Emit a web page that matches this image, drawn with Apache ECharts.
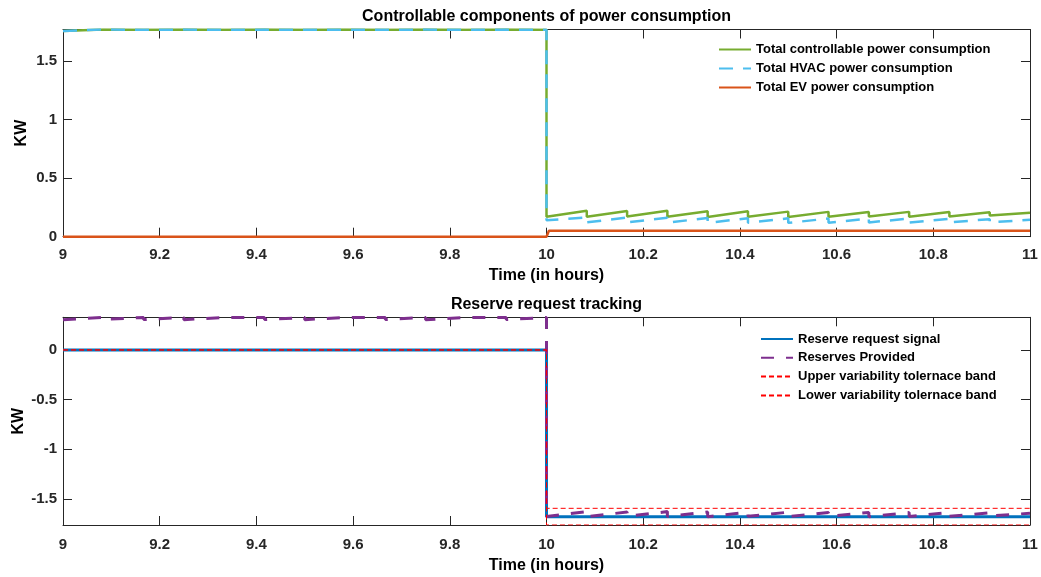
<!DOCTYPE html>
<html>
<head>
<meta charset="utf-8">
<script src="https://cdn.jsdelivr.net/npm/echarts@6/dist/echarts.min.js"></script>
<style>
html,body{margin:0;padding:0;background:#fff;}
#chart{width:1041px;height:577px;}
</style>
</head>
<body>
<div id="chart"></div>
<script>
// ---------- data ----------
const xTicks = [9, 9.2, 9.4, 9.6, 9.8, 10, 10.2, 10.4, 10.6, 10.8, 11];
const yTicksTop = [0, 0.5, 1, 1.5];
const yTicksBottom = [-1.5, -1, -0.5, 0];
const yRangeTop = [0, 1.769];
const yRangeBottom = [-1.763, 0.329];

// sawtooth break times (hours)
const dropTimes = [9, 9.0833, 9.1667, 9.25, 9.3333, 9.4167, 9.5, 9.5833, 9.6667, 9.75, 9.8333, 9.9167,
                   10, 10.0833, 10.1667, 10.25, 10.3333, 10.4167, 10.5, 10.5833, 10.6667, 10.75, 10.8333, 10.9167, 11];

// Total controllable power consumption: value at start / end of each segment
const ctrlStart = [1.756, 1.758, 1.757, 1.756, 1.758, 1.757, 1.756, 1.758, 1.757, 1.756, 1.758, 1.757,
                   0.171, 0.170, 0.172, 0.170, 0.168, 0.170, 0.168, 0.170, 0.172, 0.170, 0.172, 0.180];
const ctrlEnd   = [1.769, 1.767, 1.768, 1.767, 1.768, 1.767, 1.768, 1.767, 1.768, 1.767, 1.768, 1.767,
                   0.222, 0.220, 0.222, 0.218, 0.218, 0.214, 0.212, 0.210, 0.212, 0.210, 0.208, 0.205];
// Total HVAC power consumption
const hvacStart = [1.756, 1.758, 1.757, 1.756, 1.758, 1.757, 1.756, 1.758, 1.757, 1.756, 1.758, 1.757,
                   0.140, 0.122, 0.122, 0.120, 0.118, 0.120, 0.118, 0.120, 0.122, 0.120, 0.122, 0.122];
const hvacEnd   = [1.769, 1.767, 1.768, 1.767, 1.768, 1.767, 1.768, 1.767, 1.768, 1.767, 1.768, 1.767,
                   0.165, 0.163, 0.162, 0.160, 0.158, 0.157, 0.155, 0.154, 0.155, 0.153, 0.150, 0.145];
// Total EV power consumption
const evTimes  = [9, 10, 10.005, 11];
const evValues = [0, 0, 0.051, 0.051];

// Reserve request tracking
const sigTimes     = [9, 10, 10, 11];
const sigValues    = [0, 0, -1.679, -1.679];
const upperValues  = [0, 0, -1.595, -1.595];
const lowerValues  = [0, 0, -1.763, -1.763];
const provStart = [0.305, 0.308, 0.306, 0.305, 0.308, 0.306, 0.305, 0.308, 0.306, 0.305, 0.308, 0.306,
                   -1.678, -1.680, -1.676, -1.678, -1.680, -1.676, -1.678, -1.676, -1.680, -1.678, -1.676, -1.672];
const provEnd   = [0.329, 0.327, 0.328, 0.327, 0.328, 0.327, 0.328, 0.327, 0.328, 0.327, 0.328, 0.327,
                   -1.628, -1.632, -1.628, -1.632, -1.634, -1.634, -1.636, -1.636, -1.638, -1.636, -1.640, -1.645];

// ---------- build ----------
function saw(times, s, e) {
  const out = [];
  for (let i = 0; i < s.length; i++) {
    out.push([times[i], s[i]]);
    out.push([times[i + 1], e[i]]);
  }
  return out;
}
function pairs(xs, ys) { return xs.map((x, i) => [x, ys[i]]); }

const FONT = 'Arial, "Liberation Sans", sans-serif';
const AX = '#262626';

function xAx(grid, bottom, gap, margin) {
  return {
    type: 'value', gridIndex: grid, min: xTicks[0], max: xTicks[xTicks.length - 1],
    position: bottom ? 'bottom' : 'top',
    name: bottom ? 'Time (in hours)' : '', nameLocation: 'middle', nameGap: gap || 31, nameMoveOverlap: false,
    nameTextStyle: { fontFamily: FONT, fontWeight: 'bold', fontSize: 16, color: '#000' },
    axisLine: { show: true, onZero: false, lineStyle: { color: AX, width: 1 } },
    axisTick: { show: true, inside: true, length: 9, customValues: xTicks, lineStyle: { color: AX } },
    axisLabel: { show: bottom, customValues: xTicks, margin: margin || 11, fontFamily: FONT, fontWeight: 'bold', fontSize: 15, color: AX },
    splitLine: { show: false }
  };
}
function yAx(grid, left, ticks, range, gap) {
  return {
    type: 'value', gridIndex: grid, min: range[0], max: range[1],
    position: left ? 'left' : 'right',
    name: left ? 'KW' : '', nameLocation: 'middle', nameGap: gap || 35, nameRotate: 90, nameMoveOverlap: false,
    nameTextStyle: { fontFamily: FONT, fontWeight: 'bold', fontSize: 16, color: '#000' },
    axisLine: { show: true, onZero: false, lineStyle: { color: AX, width: 1 } },
    axisTick: { show: true, inside: true, length: 9, customValues: ticks, lineStyle: { color: AX } },
    axisLabel: { show: left, customValues: ticks, margin: 6, fontFamily: FONT, fontWeight: 'bold', fontSize: 15, color: AX },
    splitLine: { show: false }
  };
}

const legendCommon = {
  orient: 'vertical', itemWidth: 32, itemHeight: 14, padding: 0,
  itemStyle: { opacity: 0 },
  textStyle: { fontFamily: FONT, fontWeight: 'bold', fontSize: 13, color: '#000' }
};

const chart = echarts.init(document.getElementById('chart'), null, { renderer: 'canvas' });
chart.setOption({
  animation: false,
  backgroundColor: '#fff',
  title: [
    { text: 'Controllable components of power consumption', left: 546.5, top: 9, textAlign: 'center', padding: 0,
      textStyle: { fontFamily: FONT, fontWeight: 'bold', fontSize: 16, color: '#000' } },
    { text: 'Reserve request tracking', left: 546.5, top: 297, textAlign: 'center', padding: 0,
      textStyle: { fontFamily: FONT, fontWeight: 'bold', fontSize: 16, color: '#000' } }
  ],
  legend: [
    Object.assign({}, legendCommon, { left: 718, top: 43, itemGap: 6,
      data: ['Total controllable power consumption', 'Total HVAC power consumption', 'Total EV power consumption'] }),
    Object.assign({}, legendCommon, { left: 760, top: 332.5, itemGap: 5.8,
      data: ['Reserve request signal', 'Reserves Provided', 'Upper variability tolernace band', 'Lower variability tolernace band'] })
  ],
  grid: [
    { left: 63, top: 29.5, width: 967, height: 207.2, outerBoundsMode: 'none', containLabel: false },
    { left: 63, top: 317.3, width: 967, height: 207.7, outerBoundsMode: 'none', containLabel: false }
  ],
  xAxis: [xAx(0, true, 31, 11), xAx(0, false), xAx(1, true, 33, 12), xAx(1, false)],
  yAxis: [yAx(0, true, yTicksTop, yRangeTop, 33), yAx(0, false, yTicksTop, yRangeTop),
          yAx(1, true, yTicksBottom, yRangeBottom, 36), yAx(1, false, yTicksBottom, yRangeBottom)],
  series: [
    { name: 'Total controllable power consumption', type: 'line', xAxisIndex: 0, yAxisIndex: 0, symbol: 'none', showSymbol: false,
      data: saw(dropTimes, ctrlStart, ctrlEnd), color: '#77AC30', lineStyle: { width: 2.5, color: '#77AC30' } },
    { name: 'Total HVAC power consumption', type: 'line', xAxisIndex: 0, yAxisIndex: 0, symbol: 'none', showSymbol: false,
      data: saw(dropTimes, hvacStart, hvacEnd), color: '#4DBEEE', lineStyle: { width: 2.5, color: '#4DBEEE', type: [14, 10] } },
    { name: 'Total EV power consumption', type: 'line', xAxisIndex: 0, yAxisIndex: 0, symbol: 'none', showSymbol: false,
      data: pairs(evTimes, evValues), color: '#D95319', lineStyle: { width: 2.5, color: '#D95319' } },
    { name: 'Reserve request signal', type: 'line', xAxisIndex: 2, yAxisIndex: 2, symbol: 'none', showSymbol: false,
      data: pairs(sigTimes, sigValues), color: '#0072BD', lineStyle: { width: 3, color: '#0072BD' } },
    { name: 'Reserves Provided', type: 'line', xAxisIndex: 2, yAxisIndex: 2, symbol: 'none', showSymbol: false,
      data: saw(dropTimes, provStart, provEnd), color: '#7E2F8E', lineStyle: { width: 3, color: '#7E2F8E', type: [13, 12] } },
    { name: 'Upper variability tolernace band', type: 'line', xAxisIndex: 2, yAxisIndex: 2, symbol: 'none', showSymbol: false,
      data: pairs(sigTimes, upperValues), color: '#FF0000', lineStyle: { width: 1, color: '#FF0000', type: [5, 3] } },
    { name: 'Lower variability tolernace band', type: 'line', xAxisIndex: 2, yAxisIndex: 2, symbol: 'none', showSymbol: false,
      data: pairs(sigTimes, lowerValues), color: '#FF0000', lineStyle: { width: 1, color: '#FF0000', type: [5, 3] } }
  ]
});
</script>
</body>
</html>
